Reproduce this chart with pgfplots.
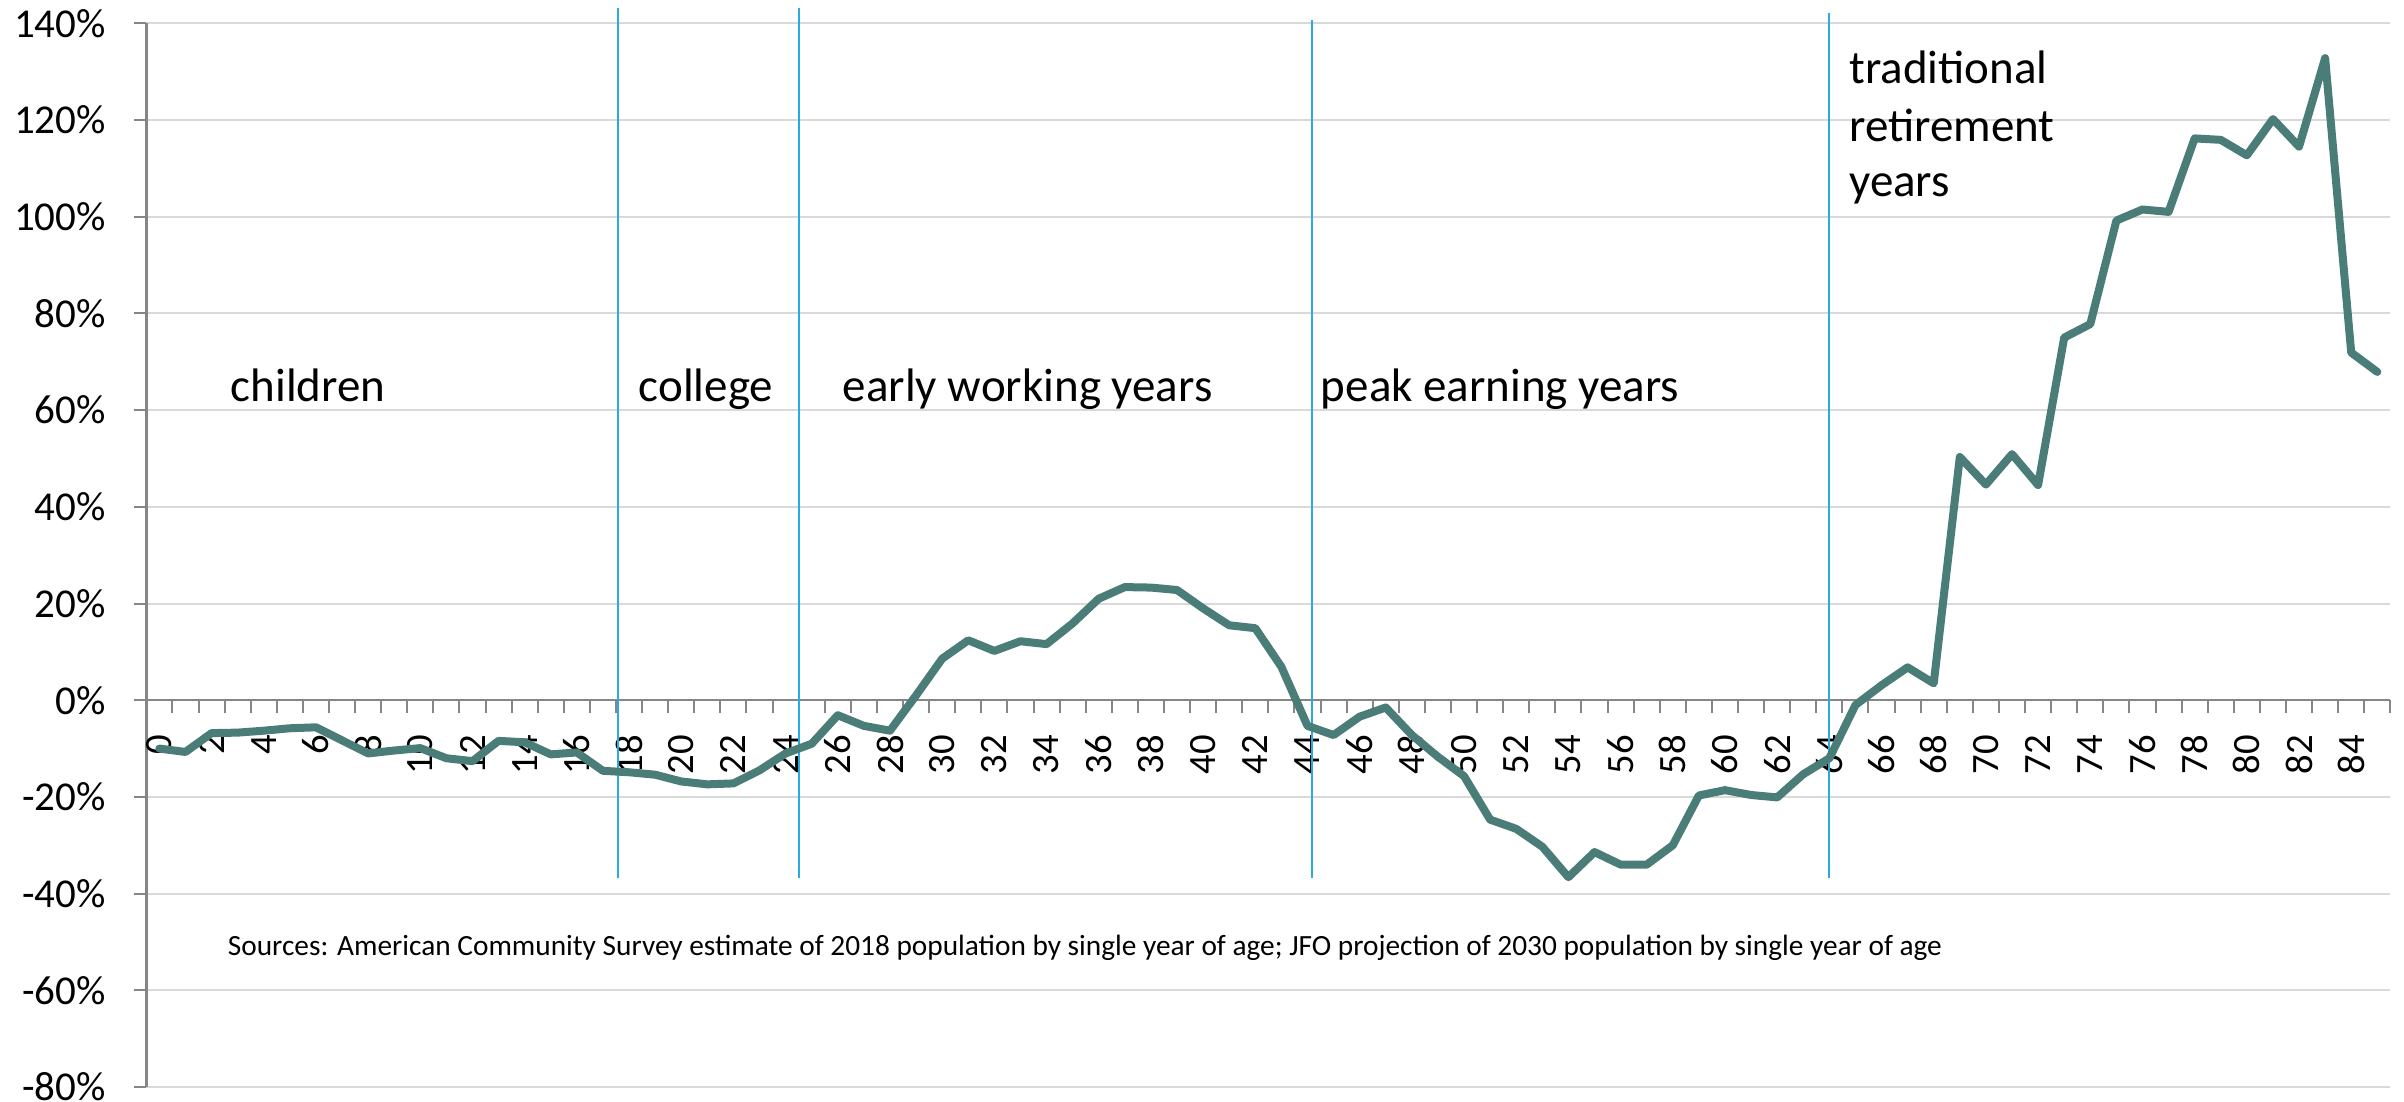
\documentclass[border=0pt]{standalone}
\usepackage{fontspec}
\setmainfont{Carlito}
\usepackage{pgfplots}
\pgfplotsset{compat=1.18}
\definecolor{dataline}{RGB}{74,124,120}
\definecolor{vline}{RGB}{41,171,226}
\definecolor{gridc}{RGB}{217,217,217}
\definecolor{axisc}{RGB}{134,134,134}
\begin{document}
\begin{tikzpicture}
\begin{axis}[
  scale only axis, width=673.2pt, height=319.1pt,
  xmin=-0.5, xmax=85.5, ymin=-80, ymax=140,
  clip=false,
  axis x line=middle, axis y line=left,
  axis line style={-, draw=axisc, line width=0.75pt},
  hide obscured x ticks=false, hide obscured y ticks=false,
  xtick={0,2,...,84},
  xticklabel={\pgfmathparse{int(round(\tick))}\pgfmathresult},
  minor xtick={-0.5,0.5,...,85.5},
  major x tick style={draw=none},
  minor x tick style={draw=axisc, line width=0.6pt},
  minor tick length=3.9pt,
  major tick length=3.6pt,
  xtick align=outside, ytick align=outside,
  ytick={-80,-60,-40,-20,0,20,40,60,80,100,120,140},
  yticklabels={-80\%,-60\%,-40\%,-20\%,0\%,20\%,40\%,60\%,80\%,100\%,120\%,140\%},
  major y tick style={draw=axisc, line width=0.6pt},
  ymajorgrids, major grid style={draw=gridc, line width=0.6pt},
  yticklabel style={font=\fontsize{12.3}{14}\selectfont, inner sep=0pt, anchor=east, xshift=-8.4pt},
  xticklabel style={font=\fontsize{11.6}{13}\selectfont, inner sep=0pt, yshift=-6.6pt, rotate=90, anchor=east},
]
\addplot[vline, line width=0.6pt, forget plot] coordinates {(17.56,-36.7) (17.56,143.2)};
\addplot[vline, line width=0.6pt, forget plot] coordinates {(24.53,-36.7) (24.53,143.2)};
\addplot[vline, line width=0.6pt, forget plot] coordinates {(44.17,-36.7) (44.17,140.7)};
\addplot[vline, line width=0.6pt, forget plot] coordinates {(63.97,-36.7) (63.97,142.2)};
\addplot[dataline, line width=2.4pt, line join=round, line cap=round, mark=none] coordinates {
(0,-10.0) (1,-10.7) (2,-6.8) (3,-6.7) (4,-6.3) (5,-5.8) (6,-5.6) (7,-8.3) (8,-11.0) (9,-10.4)
(10,-9.9) (11,-12.0) (12,-12.6) (13,-8.4) (14,-8.7) (15,-11.2) (16,-10.8) (17,-14.6) (18,-14.9) (19,-15.4)
(20,-16.8) (21,-17.4) (22,-17.2) (23,-14.5) (24,-11.0) (25,-9.0) (26,-3.1) (27,-5.3) (28,-6.3) (29,1.0)
(30,8.6) (31,12.4) (32,10.2) (33,12.2) (34,11.6) (35,15.9) (36,21.0) (37,23.4) (38,23.3) (39,22.8)
(40,19.0) (41,15.5) (42,14.9) (43,6.9) (44,-5.3) (45,-7.2) (46,-3.4) (47,-1.5) (48,-7.2) (49,-11.7)
(50,-15.7) (51,-24.7) (52,-26.6) (53,-30.3) (54,-36.6) (55,-31.4) (56,-34.0) (57,-34.0) (58,-30.0) (59,-19.7)
(60,-18.6) (61,-19.6) (62,-20.1) (63,-15.3) (64,-12.0) (65,-1.0) (66,3.1) (67,6.8) (68,3.5) (69,50.3)
(70,44.6) (71,50.9) (72,44.5) (73,75.0) (74,77.8) (75,99.2) (76,101.5) (77,101.0) (78,116.2) (79,115.9)
(80,112.7) (81,120.2) (82,114.5) (83,132.8) (84,71.9) (85,67.9)
};
\node[anchor=base west, inner sep=0pt, font=\fontsize{14.1}{17}\selectfont] at (axis cs:2.71,61.7) {children};
\node[anchor=base west, inner sep=0pt, font=\fontsize{14.1}{17}\selectfont] at (axis cs:18.35,61.7) {college};
\node[anchor=base west, inner sep=0pt, font=\fontsize{14.1}{17}\selectfont] at (axis cs:26.17,61.7) {early working years};
\node[anchor=base west, inner sep=0pt, font=\fontsize{14.1}{17}\selectfont] at (axis cs:44.49,61.7) {peak earning years};
\node[anchor=base west, inner sep=0pt, font=\fontsize{14.1}{17}\selectfont] at (axis cs:64.74,127.6) {traditional};
\node[anchor=base west, inner sep=0pt, font=\fontsize{14.1}{17}\selectfont] at (axis cs:64.74,115.5) {retirement};
\node[anchor=base west, inner sep=0pt, font=\fontsize{14.1}{17}\selectfont] at (axis cs:64.74,104.1) {years};
\node[anchor=base west, inner sep=0pt, font=\fontsize{8.8}{10}\selectfont] at (axis cs:2.6,-52.8) {Sources: American Community Survey estimate of 2018 population by single year of age; JFO projection of 2030 population by single year of age};
\coordinate (ll) at (rel axis cs:0,0);
\coordinate (ur) at (rel axis cs:1,1);
\end{axis}
\pgfresetboundingbox
\path[use as bounding box] ([xshift=-43.9pt,yshift=-4.2pt]ll) rectangle ([xshift=4.1pt,yshift=7pt]ur);
\end{tikzpicture}
\end{document}
